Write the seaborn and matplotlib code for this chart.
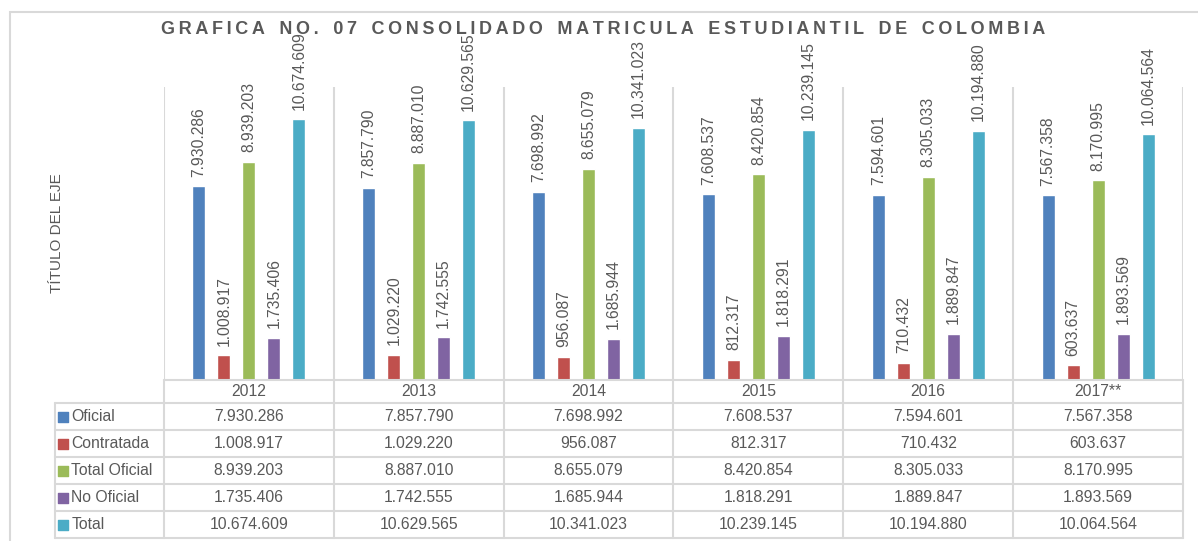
import pandas as pd
import numpy as np
import matplotlib.pyplot as plt
import seaborn as sns
from matplotlib.patches import Rectangle

# Data
years = ['2012', '2013', '2014', '2015', '2016', '2017**']
series = ['Oficial', 'Contratada', 'Total Oficial', 'No Oficial', 'Total']
oficial = [7930286, 7857790, 7698992, 7608537, 7594601, 7567358]
contratada = [1008917, 1029220, 956087, 812317, 710432, 603637]
total_oficial = [8939203, 8887010, 8655079, 8420854, 8305033, 8170995]
no_oficial = [1735406, 1742555, 1685944, 1818291, 1889847, 1893569]
total = [10674609, 10629565, 10341023, 10239145, 10194880, 10064564]
colors = ['#4F81BD', '#C0504D', '#9BBB59', '#8064A2', '#4BACC6']

values = [oficial, contratada, total_oficial, no_oficial, total]
df = pd.DataFrame({
    'Año': years * len(series),
    'Serie': np.repeat(series, len(years)),
    'Valor': np.concatenate(values),
})

def fmt(v):
    return f"{int(round(v)):,}".replace(",", ".")

sns.set_theme(style="white")
plt.rcParams['font.family'] = ['Liberation Sans', 'DejaVu Sans']
txt = '#595959'
grid = '#d9d9d9'

W, H = 1198, 541
fig = plt.figure(figsize=(W / 100, H / 100), dpi=100)

# chart outer border
fig.patches.append(Rectangle((10 / W, -0.05), 1.2, (541 - 12) / H + 0.05,
                             transform=fig.transFigure, fill=False,
                             edgecolor=grid, linewidth=1.5))

# main plot area
x0, x1 = 164, 1183
ax = fig.add_axes([x0 / W, (H - 380) / H, (x1 - x0) / W, (380 - 87) / H])
sns.barplot(data=df, x='Año', y='Valor', hue='Serie', palette=colors,
            width=0.735, gap=0.48, legend=False, ax=ax, saturation=1)
ax.set_xlim(-0.5, len(years) - 0.5)
ax.set_ylim(0, 12000000)
for c in ax.containers:
    ax.bar_label(c, labels=[fmt(v) for v in c.datavalues], rotation=90,
                 padding=7, fontsize=11.3, color=txt, clip_on=False)
for i in range(len(years) + 1):
    ax.axvline(i - 0.5, color=grid, linewidth=1.5, zorder=0)
ax.set_xticks([])
ax.set_yticks([])
ax.set_xlabel('')
ax.set_ylabel('')
for s in ax.spines.values():
    s.set_visible(False)

# data table below the plot
left_col = (164 - 55) / 170
tx = fig.add_axes([55 / W, (H - 538) / H, (x1 - 55) / W, (538 - 380) / H])
tx.set_xlim(-0.5 - left_col, len(years) - 0.5)
tx.set_ylim(538, 380)
tx.axis('off')
rows = [380, 403, 430, 457, 484, 511, 538]
lc = dict(color=grid, linewidth=1.5, clip_on=False)
tx.plot([-0.5, len(years) - 0.5], [380, 380], **lc)
for r in rows[1:]:
    tx.plot([-0.5 - left_col, len(years) - 0.5], [r, r], **lc)
tx.plot([-0.5 - left_col] * 2, [403, 538], **lc)
for i in range(len(years) + 1):
    tx.plot([i - 0.5] * 2, [380, 538], **lc)
for i, y in enumerate(years):
    tx.text(i, (rows[0] + rows[1]) / 2, y, ha='center', va='center',
            fontsize=11.3, color=txt)
for j, (name, vals, col) in enumerate(zip(series, values, colors)):
    yc = (rows[j + 1] + rows[j + 2]) / 2
    tx.scatter([-0.5 - left_col + 0.045], [yc], marker='s', s=50, color=col)
    tx.text(-0.5 - left_col + 0.095, yc, name, ha='left', va='center',
            fontsize=11.3, color=txt)
    for i, v in enumerate(vals):
        tx.text(i, yc, fmt(v), ha='center', va='center', fontsize=11.3, color=txt)

# axis title and chart title
fig.text(57 / W, (H - 233) / H, 'TÍTULO DEL EJE', rotation=90, ha='center',
         va='center', fontsize=11, color=txt)
title = 'GRAFICA NO. 07 CONSOLIDADO MATRICULA ESTUDIANTIL DE COLOMBIA'
spaced = '\u2009'.join(title).replace('\u2009 \u2009', '\u2009\u2009\u2009\u2009')
fig.text(603 / W, (H - 29) / H, spaced, ha='center', va='center',
         fontsize=13, fontweight='bold', color=txt, zorder=10,
         family=['Liberation Sans', 'DejaVu Sans'])

fig.savefig('out.png', dpi=100)
